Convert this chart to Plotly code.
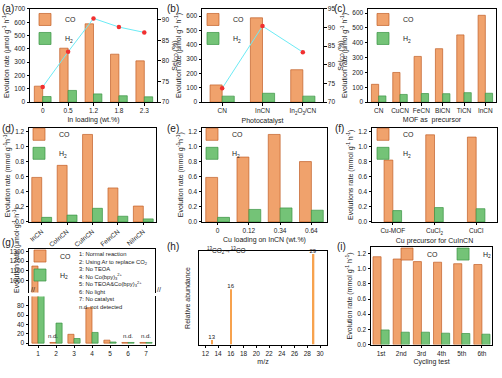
import plotly.graph_objects as go

W, H = 502, 378
FONT = "Liberation Sans, Arial, sans-serif"
CO_FILL, CO_LINE = "#F0A26C", "#C25E26"
H2_FILL, H2_LINE = "#74C377", "#3A9444"

# ---------------- data ----------------
a_cats = ["0", "0.5", "1.2", "1.8", "2.3"]
a_co = [120, 405, 588, 360, 310]
a_h2 = [42, 88, 62, 48, 40]
a_sel = [73.7, 82.2, 90.3, 88.2, 86.9]

b_cats = ["CN", "InCN", "In<sub>2</sub>O<sub>3</sub>/CN"]
b_co = [120, 588, 226]
b_h2 = [42, 62, 42]
b_sel = [73.7, 90.4, 83.4]

c_cats = ["CN", "CuCN", "FeCN", "BiCN", "TiCN", "InCN"]
c_co = [120, 200, 308, 360, 453, 585]
c_h2 = [42, 52, 58, 57, 64, 60]

d_cats = ["InCN", "CoInCN", "CuInCN", "FeInCN", "NiInCN"]
d_co = [0.59, 0.75, 1.16, 0.45, 0.21]
d_h2 = [0.06, 0.09, 0.18, 0.075, 0.04]

e_cats = ["0", "0.12", "0.34", "0.64"]
e_co = [0.59, 0.86, 1.16, 0.80]
e_h2 = [0.06, 0.165, 0.185, 0.155]

f_cats = ["Cu-MOF", "CuCl<sub>2</sub>", "CuCl"]
f_co = [0.82, 1.155, 1.125]
f_h2 = [0.15, 0.19, 0.175]

g_cond = [1, 2, 3, 4, 5, 6, 7]
g_co = [1150, 1.5, 19, 76, 6.5, 1.5, 1.5]
g_h2 = [180, 43, 10, 23, 2.5, 1.5, 1.5]
g_nd_cond = [2, 6, 7]
g_nd_val = [1.5, 1.5, 1.5]
g_notes = ["1: Normal reaction",
           "2: Using Ar to replace CO<sub>2</sub>",
           "3: No TEOA",
           "4: No Co(bpy)<sub>3</sub><sup>2+</sup>",
           "5: No TEOA&Co(bpy)<sub>3</sub><sup>2+</sup>",
           "6: No light",
           "7: No catalyst",
           "n.d. not detected"]

h_mz = [13, 16, 29]
h_ab = [0.05, 0.61, 1.0]

i_cats = ["1st", "2nd", "3rd", "4th", "5th", "6th"]
i_co = [1.157, 1.127, 1.093, 1.085, 1.065, 1.055]
i_h2 = [0.193, 0.163, 0.163, 0.15, 0.146, 0.137]

# ---------------- helpers ----------------
def xd(a, b):
    return [a / W, b / W]

def yd(top, bot):
    return [1 - bot / H, 1 - top / H]

def axis(dom, **kw):
    d = dict(domain=dom, showline=True, linecolor="black", linewidth=1,
             mirror=True, ticks="outside", ticklen=2.5, tickwidth=0.8,
             tickcolor="black", tickfont=dict(size=6.5, color="#222"),
             showgrid=False, zeroline=False)
    d.update(kw)
    return d

def cat_axis(dom, cats, **kw):
    return axis(dom, type="category", range=[-0.5, len(cats) - 0.5], **kw)

def ttl(text, standoff=3):
    return dict(text=text, font=dict(size=7, color="#222"), standoff=standoff)

fig = go.Figure()

def add_bars(x, co, h2, xa, ya, leg, w):
    fig.add_trace(go.Bar(x=x, y=co, width=w, offset=-w, name="CO",
                         marker=dict(color=CO_FILL, line=dict(color=CO_LINE, width=0.7)),
                         xaxis=xa, yaxis=ya, legend=leg))
    fig.add_trace(go.Bar(x=x, y=h2, width=w, offset=0, name="H<sub>2</sub>",
                         marker=dict(color=H2_FILL, line=dict(color=H2_LINE, width=0.7)),
                         xaxis=xa, yaxis=ya, legend=leg))

def add_sel(x, sel, xa, ya):
    fig.add_trace(go.Scatter(x=x, y=sel, mode="lines+markers", showlegend=False,
                             line=dict(color="#6CEBF5", width=1),
                             marker=dict(color="#F03030", size=4.5),
                             xaxis=xa, yaxis=ya))

EVO_U = "Evolution rate (μmol g<sup>-1</sup> h<sup>-1</sup>)"
EVO_M = "Evolution rate (mmol g<sup>-1</sup>h<sup>-1</sup>)"
EVO_M2 = "Evolution rate (mmol g<sup>-1</sup> h<sup>-1</sup>)"
SEL = "Sel<sub>CO</sub> (%)"

# (a)
add_bars(a_cats, a_co, a_h2, "x", "y", "legend", 0.33)
add_sel(a_cats, a_sel, "x", "y2")
# (b)
add_bars(b_cats, b_co, b_h2, "x2", "y3", "legend2", 0.3)
add_sel(b_cats, b_sel, "x2", "y4")
# (c)
add_bars(c_cats, c_co, c_h2, "x3", "y5", "legend3", 0.34)
# (d)
add_bars(d_cats, d_co, d_h2, "x4", "y6", "legend4", 0.39)
# (e)
add_bars(e_cats, e_co, e_h2, "x5", "y7", "legend5", 0.38)
# (f)
add_bars(f_cats, f_co, f_h2, "x6", "y8", "legend6", 0.21)
# (g) upper + lower
for xa, ya, show in (("x7", "y9", False), ("x8", "y10", True)):
    fig.add_trace(go.Bar(x=g_cond, y=g_co, width=0.34, offset=-0.34, name="CO",
                         marker=dict(color=CO_FILL, line=dict(color=CO_LINE, width=0.7)),
                         xaxis=xa, yaxis=ya, legend="legend7", showlegend=not show))
    fig.add_trace(go.Bar(x=g_cond, y=g_h2, width=0.34, offset=0, name="H<sub>2</sub>",
                         marker=dict(color=H2_FILL, line=dict(color=H2_LINE, width=0.7)),
                         xaxis=xa, yaxis=ya, legend="legend7", showlegend=not show))
# (h)
fig.add_trace(go.Bar(x=h_mz, y=h_ab, width=0.22, text=[str(v) for v in h_mz],
                     textposition="outside", cliponaxis=False, constraintext="none",
                     textfont=dict(size=6, color="#222"),
                     marker=dict(color="#F7A24E", line=dict(width=0)),
                     showlegend=False, xaxis="x9", yaxis="y11"))
# (i)
add_bars(i_cats, i_co, i_h2, "x10", "y12", "legend8", 0.4)

# ---------------- layout ----------------
lay = dict(width=W, height=H, margin=dict(l=0, r=0, t=0, b=0),
           paper_bgcolor="white", plot_bgcolor="rgba(0,0,0,0)",
           font=dict(family=FONT, size=7, color="#222"), barmode="overlay")

# row 1
lay["xaxis"] = cat_axis(xd(30, 157), a_cats, anchor="y", title=ttl("In loading (wt.%)"))
lay["yaxis"] = axis(yd(5, 100), anchor="x", range=[0, 700], dtick=100, title=ttl(EVO_U))
lay["yaxis2"] = axis(yd(5, 100), anchor="x", overlaying="y", side="right", range=[70, 92.6],
                     dtick=5, mirror=False, title=ttl(SEL))
lay["xaxis2"] = cat_axis(xd(202, 323), b_cats, anchor="y3", title=ttl("Photocatalyst"))
lay["yaxis3"] = axis(yd(5, 100), anchor="x2", range=[0, 650], dtick=100, title=ttl(EVO_U))
lay["yaxis4"] = axis(yd(5, 100), anchor="x2", overlaying="y3", side="right", range=[70, 95],
                     dtick=5, mirror=False, title=ttl(SEL))
lay["xaxis3"] = cat_axis(xd(368, 496), c_cats, anchor="y5", title=ttl("MOF as  precursor"))
lay["yaxis5"] = axis(yd(5, 100), anchor="x3", range=[0, 628], dtick=100, title=ttl(EVO_U))
# row 2
lay["xaxis4"] = cat_axis(xd(29, 156), d_cats, anchor="y6", tickangle=-40)
lay["yaxis6"] = axis(yd(126, 222), anchor="x4", range=[0, 1.25], dtick=0.2, tickformat=".1f",
                     title=ttl(EVO_M))
lay["xaxis5"] = cat_axis(xd(202, 327), e_cats, anchor="y7",
                         title=ttl("Cu loading on InCN (wt.%)"))
lay["yaxis7"] = axis(yd(126, 222), anchor="x5", range=[0, 1.25], dtick=0.2, tickformat=".1f",
                     title=ttl(EVO_M))
lay["xaxis6"] = cat_axis(xd(372, 497), f_cats, anchor="y8",
                         title=ttl("Cu precursor for CuInCN"))
lay["yaxis8"] = axis(yd(126, 222), anchor="x6", range=[0, 1.25], dtick=0.2, tickformat=".1f",
                     title=ttl("Evolutions rate (mmol g<sup>-1</sup> h<sup>-1</sup>)"))
# row 3 (g) broken axis
lay["xaxis7"] = axis(xd(29, 155), anchor="y9", range=[0.5, 7.5], side="top", showticklabels=False,
                     ticks="", mirror=False)
lay["yaxis9"] = axis(yd(250, 294), anchor="x7", range=[880, 1320], tickvals=[1000, 1100, 1200, 1300])
lay["xaxis8"] = axis(xd(29, 155), anchor="y10", range=[0.5, 7.5], dtick=1, mirror=False)
lay["yaxis10"] = axis(yd(298, 347), anchor="x8", range=[-3, 100], tickvals=[0, 20, 40, 60, 80])
lay["xaxis9"] = axis(xd(199, 327), anchor="y11", range=[11, 31.1], dtick=2, title=ttl("m/z"))
lay["yaxis11"] = axis(yd(252, 347), anchor="x9", range=[0, 1.03], showticklabels=False, ticks="",
                      title=ttl("Relative abundance", 6))
lay["xaxis10"] = cat_axis(xd(371, 492), i_cats, anchor="y12", title=ttl("Cycling test"))
lay["yaxis12"] = axis(yd(248, 347), anchor="x10", range=[0, 1.28], dtick=0.2, tickformat=".1f",
                      title=ttl(EVO_M2))

def leg(x, y, **kw):
    d = dict(x=x / W, y=1 - y / H, xanchor="left", yanchor="top", bgcolor="rgba(0,0,0,0)",
             font=dict(size=7, color="#222"), tracegroupgap=0, itemwidth=30,
             traceorder="normal")
    d.update(kw)
    return d

lay["legend"] = leg(25, 1)
lay["legend2"] = leg(193, 1)
lay["legend3"] = leg(363, 1)
lay["legend4"] = leg(19, 118)
lay["legend5"] = leg(192, 118)
lay["legend6"] = leg(363, 118)
lay["legend7"] = leg(20, 242)
lay["legend8"] = leg(497, 240, xanchor="right", orientation="h")

ann = []
labels = [("(a)", 0, 5), ("(b)", 165, 5), ("(c)", 332, 5), ("(d)", 0, 127), ("(e)", 165, 127),
          ("(f)", 333, 127), ("(g)", 0, 243), ("(h)", 165, 247), ("(i)", 335, 247)]
for t, x, y in labels:
    ann.append(dict(text=t, x=x / W, y=1 - y / H, xref="paper", yref="paper", xanchor="left",
                    yanchor="middle", showarrow=False, font=dict(size=10, color="#222")))
ann.append(dict(text="Evolution rate (μmol·g<sup>-1</sup>·h<sup>-1</sup>)", x=10 / W,
                y=1 - 297 / H, xref="paper", yref="paper", textangle=-90, showarrow=False,
                font=dict(size=7, color="#222")))
ann.append(dict(text="<br>".join(g_notes), x=77 / W, y=1 - 250 / H, xref="paper", yref="paper",
                xanchor="left", yanchor="top", align="left", showarrow=False,
                font=dict(size=5.8, color="#222")))
for cx, v, sh in zip(g_nd_cond, g_nd_val, [-0.17, 0, 0]):
    ann.append(dict(text="n.d.", x=cx + sh, y=v, xref="x8", yref="y10", yanchor="bottom",
                    showarrow=False, yshift=1, font=dict(size=6, color="#222")))
for xp in (29, 155):
    ann.append(dict(text="//", x=xp / W, y=1 - 296 / H, xref="paper", yref="paper",
                    showarrow=False, font=dict(size=7, color="#222")))
ann.append(dict(text="<sup>13</sup>CO<sub>2</sub>→<sup>13</sup>CO", x=205 / W, y=1 - 258 / H,
                xref="paper", yref="paper", xanchor="left", showarrow=False,
                font=dict(size=6.5, color="#222")))
lay["annotations"] = ann

fig.update_layout(**lay)
fig.write_html("out.html", config={"displayModeBar": False},
               post_script="document.body.style.margin='0';document.body.style.padding='0';")
